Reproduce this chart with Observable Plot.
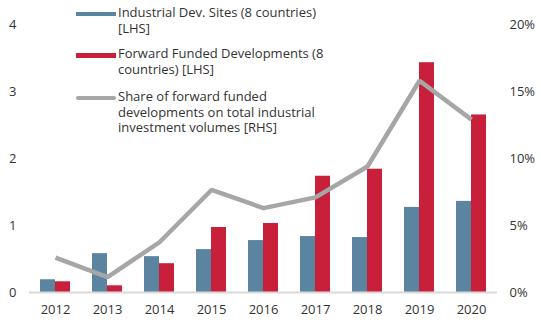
<!DOCTYPE html>
<html>
<head>
<meta charset="utf-8">
<script src="https://cdn.jsdelivr.net/npm/d3@7"></script>
<script src="https://cdn.jsdelivr.net/npm/@observablehq/plot@0.6"></script>
<style>
  html, body { margin: 0; padding: 0; background: #fff; }
  #wrap { position: relative; width: 541px; height: 326px; font-family: "Open Sans", sans-serif; color: #333; }
  .leg { position: absolute; left: 76px; font-size: 13px; line-height: 15.5px; }
  .leg .sw { position: absolute; left: 0; width: 40px; }
  .leg .tx { position: absolute; left: 42px; white-space: nowrap; }
</style>
</head>
<body>
<div id="wrap"></div>
<script>
const years = ["2012","2013","2014","2015","2016","2017","2018","2019","2020"];
const devSites = [0.19, 0.58, 0.535, 0.64, 0.775, 0.835, 0.82, 1.27, 1.36];
const forwardFunded = [0.16, 0.10, 0.43, 0.97, 1.03, 1.735, 1.84, 3.43, 2.65];
const sharePct = [2.6, 1.15, 3.75, 7.65, 6.3, 7.1, 9.4, 15.8, 12.9];
const leftTicks = [0, 1, 2, 3, 4];
const rightTicks = [0, 5, 10, 15, 20];
const legendLabels = [
  ["Industrial Dev. Sites (8 countries)", "[LHS]"],
  ["Forward Funded Developments (8", "countries) [LHS]"],
  ["Share of forward funded", "developments on total industrial", "investment volumes [RHS]"]
];

const blue = "#5b84a0", red = "#c8203a", gray = "#a6a6a6";
const pctScale = 5; // 1 LHS unit = 5 %

const bars = years.map((y, i) => ({year: y, dev: devSites[i], ff: forwardFunded[i]}));
const line = years.map((y, i) => ({year: y, v: sharePct[i] / pctScale}));

const chart = Plot.plot({
  width: 541,
  height: 326,
  marginLeft: 29,
  marginRight: 44,
  marginTop: 24,
  marginBottom: 34,
  style: {fontFamily: "Open Sans, sans-serif", fontSize: "13px", color: "#333", background: "transparent"},
  x: {domain: years, type: "band", paddingInner: 1 - 30 / 52, paddingOuter: (1 - 30 / 52) / 2, label: null},
  y: {domain: [0, 4], label: null},
  marks: [
    Plot.barY(bars, {x: "year", y: "dev", fill: blue, insetRight: 15}),
    Plot.barY(bars, {x: "year", y: "ff", fill: red, insetLeft: 15}),
    Plot.ruleY([0], {stroke: "#d9d9d9", strokeWidth: 2}),
    Plot.line(line, {x: "year", y: "v", stroke: gray, strokeWidth: 4.5, strokeLinecap: "butt", strokeLinejoin: "miter"}),
    Plot.axisX({tickSize: 0, tickPadding: 12, label: null, fontSize: 13}),
    Plot.axisY(leftTicks, {anchor: "left", tickSize: 0, tickPadding: 13, label: null, fontSize: 13, tickFormat: d => String(d)}),
    Plot.axisY(rightTicks.map(d => d / pctScale), {anchor: "right", tickSize: 0, tickPadding: 12, label: null, fontSize: 13, textAnchor: "start", tickFormat: d => Math.round(d * pctScale) + "%"})
  ]
});

const wrap = document.getElementById("wrap");
wrap.appendChild(chart);

const swatches = [
  {color: blue, top: 12, h: 4, radius: 0},
  {color: red, top: 53, h: 5, radius: 0},
  {color: gray, top: 95.5, h: 4.5, radius: 3}
];
const textTops = [5, 46, 89];
legendLabels.forEach((lines, i) => {
  const d = document.createElement("div");
  d.className = "leg";
  d.style.top = "0px";
  const sw = document.createElement("div");
  sw.className = "sw";
  sw.style.top = swatches[i].top + "px";
  sw.style.height = swatches[i].h + "px";
  sw.style.background = swatches[i].color;
  sw.style.borderRadius = swatches[i].radius + "px";
  d.appendChild(sw);
  const tx = document.createElement("div");
  tx.className = "tx";
  tx.style.top = textTops[i] + "px";
  tx.innerHTML = lines.join("<br>");
  d.appendChild(tx);
  wrap.appendChild(d);
});
</script>
</body>
</html>
